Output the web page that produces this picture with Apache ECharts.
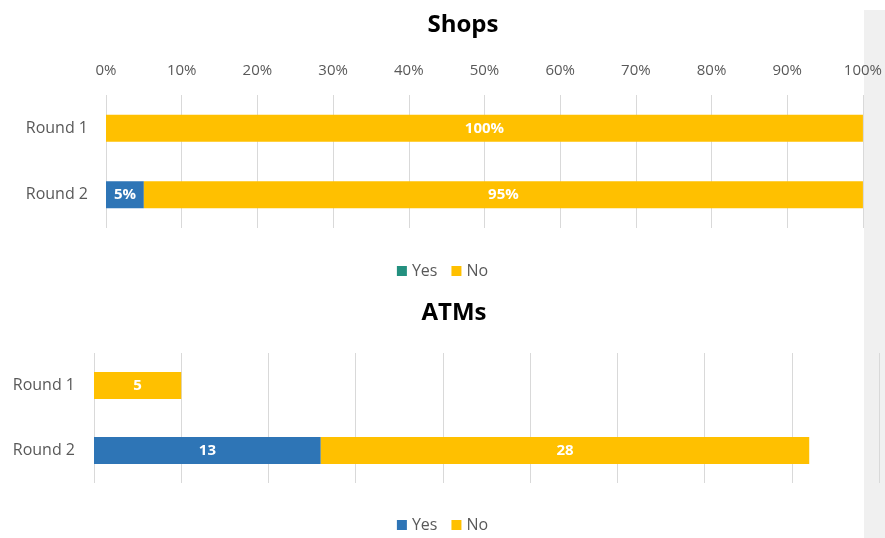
<!DOCTYPE html>
<html>
<head>
<meta charset="utf-8">
<script src="https://cdn.jsdelivr.net/npm/echarts@6/dist/echarts.min.js"></script>
<style>
  html, body { margin: 0; padding: 0; background: #fff; }
  #chart { width: 885px; height: 538px; }
</style>
</head>
<body>
<div id="chart"></div>
<script>
// data
const rounds = ['Round 1', 'Round 2'];
const shopsYes = [null, 5];
const shopsNo = [100, 95];
const atmsYes = [null, 13];
const atmsNo = [5, 28];

const BLUE = '#2E75B6';
const YELLOW = '#FFC000';
const TEAL = '#23907F';
const TEXT = '#595959';
const GRIDLINE = '#d9d9d9';
const FONT = '"Open Sans", sans-serif';

const chart = echarts.init(document.getElementById('chart'), null, { renderer: 'canvas' });

const barLabel = (suffix) => ({
  show: true,
  position: 'inside',
  color: '#fff',
  fontWeight: 'bold',
  fontSize: 15,
  fontFamily: FONT,
  formatter: p => (p.value == null ? '' : p.value + suffix)
});

const option = {
  backgroundColor: '#fff',
  animation: false,
  graphic: [
    // grey strip on the right edge of the picture
    { type: 'rect', left: 864, top: 10, shape: { width: 21, height: 528 }, style: { fill: '#f0f0f0' }, z: -10 }
  ],
  title: [
    { text: 'Shops', left: 458, top: 8, textAlign: 'center',
      textStyle: { fontSize: 24, fontWeight: 'bold', color: '#000', fontFamily: FONT } },
    { text: 'ATMs', left: 449, top: 296, textAlign: 'center',
      textStyle: { fontSize: 24, fontWeight: 'bold', color: '#000', fontFamily: FONT } }
  ],
  legend: [
    {
      top: 258, left: 'center', icon: 'rect', itemWidth: 10, itemHeight: 10, itemGap: 14,
      textStyle: { color: TEXT, fontSize: 16, fontFamily: FONT },
      data: [{ name: 'Yes', itemStyle: { color: TEAL } }, { name: 'No', itemStyle: { color: YELLOW } }],
      selectedMode: false
    },
    {
      top: 512, left: 'center', icon: 'rect', itemWidth: 10, itemHeight: 10, itemGap: 14,
      textStyle: { color: TEXT, fontSize: 16, fontFamily: FONT },
      data: [{ name: 'Yes', itemStyle: { color: BLUE } }, { name: 'No', itemStyle: { color: YELLOW } }],
      selectedMode: false
    }
  ],
  grid: [
    { left: 106, right: 20, top: 95, height: 133 },
    { left: 94, right: 6, top: 353, height: 130 }
  ],
  xAxis: [
    {
      gridIndex: 0, type: 'value', position: 'top', min: 0, max: 100, interval: 10,
      axisLine: { show: false }, axisTick: { show: false },
      axisLabel: { formatter: '{value}%', color: TEXT, fontSize: 15, fontFamily: FONT, margin: 17 },
      splitLine: { lineStyle: { color: GRIDLINE } }
    },
    {
      gridIndex: 1, type: 'value', min: 0, max: 45, interval: 5,
      axisLine: { show: false }, axisTick: { show: false },
      axisLabel: { show: false },
      splitLine: { lineStyle: { color: GRIDLINE } }
    }
  ],
  yAxis: [
    {
      gridIndex: 0, type: 'category', data: rounds, inverse: true,
      axisLine: { show: false }, axisTick: { show: false },
      axisLabel: { color: TEXT, fontSize: 16, fontFamily: FONT, margin: 18 }
    },
    {
      gridIndex: 1, type: 'category', data: rounds, inverse: true,
      axisLine: { show: false }, axisTick: { show: false },
      axisLabel: { color: TEXT, fontSize: 16, fontFamily: FONT, margin: 19 }
    }
  ],
  series: [
    { name: 'Yes', type: 'bar', stack: 'shops', xAxisIndex: 0, yAxisIndex: 0, barWidth: 27,
      itemStyle: { color: BLUE }, label: barLabel('%'), data: shopsYes },
    { name: 'No', type: 'bar', stack: 'shops', xAxisIndex: 0, yAxisIndex: 0, barWidth: 27,
      itemStyle: { color: YELLOW }, label: barLabel('%'), data: shopsNo },
    { name: 'Yes', type: 'bar', stack: 'atms', xAxisIndex: 1, yAxisIndex: 1, barWidth: 27,
      itemStyle: { color: BLUE }, label: barLabel(''), data: atmsYes },
    { name: 'No', type: 'bar', stack: 'atms', xAxisIndex: 1, yAxisIndex: 1, barWidth: 27,
      itemStyle: { color: YELLOW }, label: barLabel(''), data: atmsNo }
  ]
};

chart.setOption(option);
</script>
</body>
</html>
